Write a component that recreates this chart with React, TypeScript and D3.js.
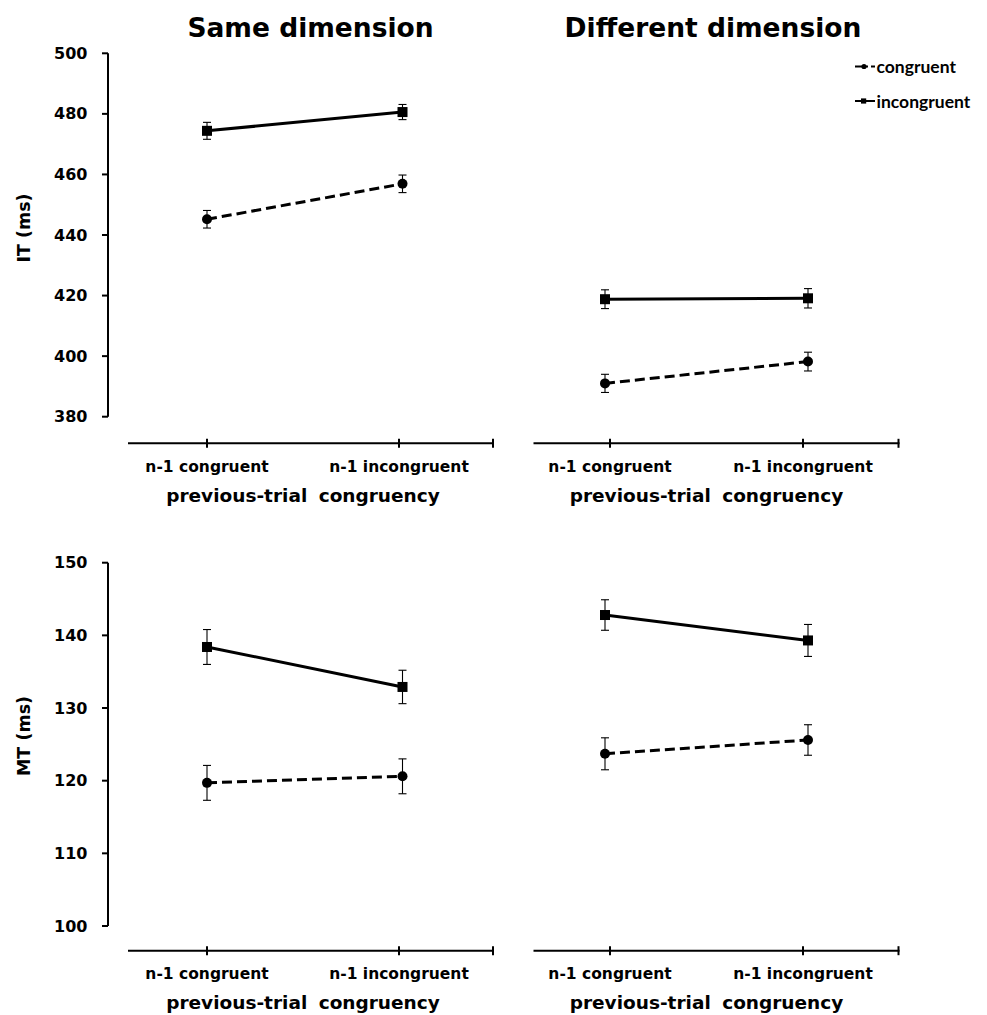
import React from "react";
import * as d3 from "d3";

// ---------- data ----------
const categories = ["n-1 congruent", "n-1 incongruent"];
const seriesNames = ["congruent", "incongruent"];
const panelTitles = ["Same dimension", "Different dimension"];
const rowLabels = ["IT (ms)", "MT (ms)"];
const xAxisTitle = "previous-trial congruency";

const itTicks = [380, 400, 420, 440, 460, 480, 500];
const mtTicks = [100, 110, 120, 130, 140, 150];

// IT, same dimension
const itSameCongruent = [445.2, 456.9];
const itSameCongruentErr = [2.9, 2.9];
const itSameIncongruent = [474.4, 480.6];
const itSameIncongruentErr = [2.8, 2.5];
// IT, different dimension
const itDiffCongruent = [391.0, 398.2];
const itDiffCongruentErr = [3.0, 3.1];
const itDiffIncongruent = [418.8, 419.1];
const itDiffIncongruentErr = [3.1, 3.2];
// MT, same dimension
const mtSameCongruent = [119.7, 120.6];
const mtSameCongruentErr = [2.4, 2.4];
const mtSameIncongruent = [138.4, 132.9];
const mtSameIncongruentErr = [2.4, 2.3];
// MT, different dimension
const mtDiffCongruent = [123.7, 125.6];
const mtDiffCongruentErr = [2.2, 2.1];
const mtDiffIncongruent = [142.8, 139.3];
const mtDiffIncongruentErr = [2.1, 2.2];

// ---------- layout ----------
const W = 987;
const H = 1015;
const FONT = "'DejaVu Sans', sans-serif";
const yAxisX = 108;
const rows = [
  { top: 53.3, bottom: 416.7, axisY: 443.3, ticks: itTicks, label: rowLabels[0], labelY: 228 },
  { top: 562.7, bottom: 926, axisY: 950.7, ticks: mtTicks, label: rowLabels[1], labelY: 736 },
];
const cols = [
  { tickRange: [207, 399], dataRange: [207, 402.5], axisStart: 128, axisEnd: 494, titleX: 310.5 },
  { tickRange: [610, 803], dataRange: [605, 808], axisStart: 533.5, axisEnd: 899.5, titleX: 713 },
];

const panels = [
  { r: 0, c: 0, cong: itSameCongruent, congErr: itSameCongruentErr, inc: itSameIncongruent, incErr: itSameIncongruentErr },
  { r: 0, c: 1, cong: itDiffCongruent, congErr: itDiffCongruentErr, inc: itDiffIncongruent, incErr: itDiffIncongruentErr },
  { r: 1, c: 0, cong: mtSameCongruent, congErr: mtSameCongruentErr, inc: mtSameIncongruent, incErr: mtSameIncongruentErr },
  { r: 1, c: 1, cong: mtDiffCongruent, congErr: mtDiffCongruentErr, inc: mtDiffIncongruent, incErr: mtDiffIncongruentErr },
];

function Series({ values, errs, x, y, kind }) {
  const pts = values.map((v, i) => [x(categories[i]), y(v)]);
  const line = d3.line();
  return (
    <g>
      <path
        d={line(pts)}
        fill="none"
        stroke="#000"
        strokeWidth={3}
        strokeDasharray={kind === "congruent" ? "10 5" : undefined}
      />
      {values.map((v, i) => {
        const cx = x(categories[i]);
        const y1 = y(v + errs[i]);
        const y2 = y(v - errs[i]);
        return (
          <g key={i} stroke="#000" strokeWidth={1.1}>
            <line x1={cx} x2={cx} y1={y1} y2={y2} />
            <line x1={cx - 4} x2={cx + 4} y1={y1} y2={y1} />
            <line x1={cx - 4} x2={cx + 4} y1={y2} y2={y2} />
          </g>
        );
      })}
      {values.map((v, i) => {
        const cx = x(categories[i]);
        const cy = y(v);
        return kind === "congruent" ? (
          <circle key={"m" + i} cx={cx} cy={cy} r={5} fill="#000" />
        ) : (
          <rect key={"m" + i} x={cx - 5} y={cy - 5} width={10} height={10} fill="#000" />
        );
      })}
    </g>
  );
}

export default function App() {
  const yScales = rows.map((row) =>
    d3.scaleLinear().domain([row.ticks[0], row.ticks[row.ticks.length - 1]]).range([row.bottom, row.top])
  );
  const tickScales = cols.map((col) => d3.scalePoint().domain(categories).range(col.tickRange));
  const dataScales = cols.map((col) => d3.scalePoint().domain(categories).range(col.dataRange));

  return (
    <svg width={W} height={H} style={{ position: "absolute", left: 0, top: 0, background: "#fff" }} fontFamily={FONT}>
      <rect x={0} y={0} width={W} height={H} fill="#fff" />
      {/* titles */}
      {cols.map((col, ci) => (
        <text key={"t" + ci} x={col.titleX} y={36.5} textAnchor="middle" fontSize={26.5} fontWeight="bold" fill="#000">
          {panelTitles[ci]}
        </text>
      ))}

      {/* y axes on left column */}
      {rows.map((row, ri) => {
        const y = yScales[ri];
        return (
          <g key={"ya" + ri}>
            <line x1={yAxisX} x2={yAxisX} y1={y.range()[1]} y2={y.range()[0]} stroke="#000" strokeWidth={2} />
            {row.ticks.map((t) => (
              <g key={t}>
                <line x1={yAxisX - 6} x2={yAxisX} y1={y(t)} y2={y(t)} stroke="#000" strokeWidth={2} />
                <text x={87.5} y={y(t)} textAnchor="end" dominantBaseline="central" fontSize={16} fontWeight="bold" fill="#000">
                  {t}
                </text>
              </g>
            ))}
            <text
              transform={`translate(24,${row.labelY}) rotate(-90)`}
              textAnchor="middle"
              dominantBaseline="central"
              fontSize={17.5}
              fontWeight="bold"
              fill="#000"
            >
              {row.label}
            </text>
          </g>
        );
      })}

      {/* x axes */}
      {rows.map((row, ri) =>
        cols.map((col, ci) => {
          const xt = tickScales[ci];
          const mid = (col.tickRange[0] + col.tickRange[1]) / 2;
          return (
            <g key={"xa" + ri + ci}>
              <line x1={col.axisStart} x2={col.axisEnd} y1={row.axisY} y2={row.axisY} stroke="#000" strokeWidth={2} />
              {[...categories.map((c) => xt(c)), col.axisEnd - 1].map((tx, k) => (
                <line key={k} x1={tx} x2={tx} y1={row.axisY - 4.5} y2={row.axisY + 4.5} stroke="#000" strokeWidth={2} />
              ))}
              {categories.map((c) => (
                <text key={c} x={xt(c)} y={row.axisY + 23.5} textAnchor="middle" dominantBaseline="central" fontSize={15.5} fontWeight="bold" fill="#000">
                  {c}
                </text>
              ))}
              <text x={mid} y={row.axisY + 52} textAnchor="middle" dominantBaseline="central" fontSize={18.5} fontWeight="bold" wordSpacing={5} fill="#000">
                {xAxisTitle}
              </text>
            </g>
          );
        })
      )}

      {/* data */}
      {panels.map((p, i) => (
        <g key={"p" + i}>
          <Series values={p.inc} errs={p.incErr} x={dataScales[p.c]} y={yScales[p.r]} kind="incongruent" />
          <Series values={p.cong} errs={p.congErr} x={dataScales[p.c]} y={yScales[p.r]} kind="congruent" />
        </g>
      ))}

      {/* legend */}
      {seriesNames.map((name, i) => {
        const ly = i === 0 ? 66.5 : 101;
        return (
          <g key={"l" + name}>
            <line
              x1={855}
              x2={875}
              y1={ly}
              y2={ly}
              stroke="#000"
              strokeWidth={2}
              strokeDasharray={i === 0 ? "8 3 2 3" : undefined}
            />
            {i === 0 ? (
              <circle cx={864} cy={ly} r={2.6} fill="#000" />
            ) : (
              <rect x={861} y={ly - 2.6} width={5.2} height={5.2} fill="#000" />
            )}
            <text x={876.5} y={ly} dominantBaseline="central" fontFamily="Lato, sans-serif" fontWeight="bold" fontSize={17.5} fill="#000">
              {name}
            </text>
          </g>
        );
      })}
    </svg>
  );
}
